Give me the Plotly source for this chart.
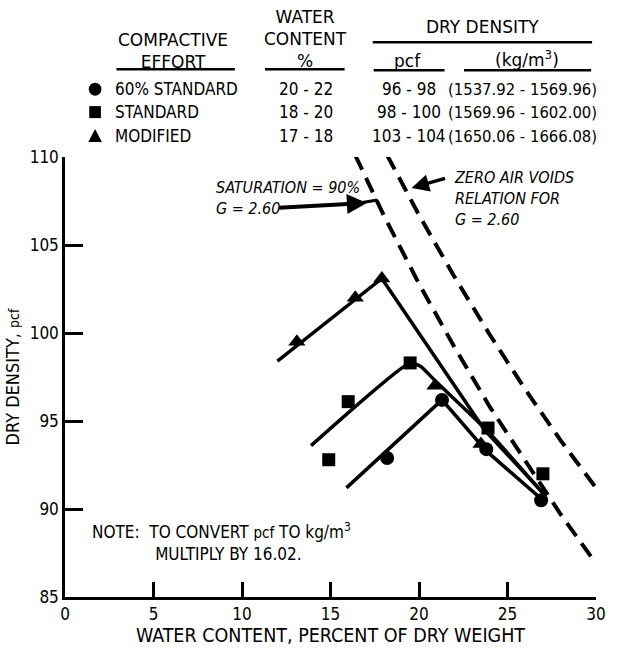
import plotly.graph_objects as go

# ---- data ----
mod_pts_x = [13.1, 16.4, 17.9, 20.9, 23.5]
mod_pts_y = [99.5, 102.0, 103.1, 97.0, 93.7]
std_pts_x = [14.9, 16.0, 19.5, 23.9, 27.0]
std_pts_y = [92.8, 96.1, 98.3, 94.6, 92.0]
s60_pts_x = [18.2, 21.3, 23.8, 26.9]
s60_pts_y = [92.9, 96.2, 93.4, 90.5]

mod_curve_x = [12.0, 17.9, 23.7, 27.1]
mod_curve_y = [98.4, 103.1, 94.5, 90.8]
std_curve_x = [13.9, 19.5, 20.1, 20.9, 23.9, 27.0]
std_curve_y = [93.6, 98.3, 98.1, 97.3, 94.4, 90.9]
s60_curve_x = [15.9, 21.3, 23.8, 27.0]
s60_curve_y = [91.2, 96.2, 93.3, 90.5]

sat_x = [16.4, 18, 20, 22, 24, 26, 28, 30]
sat_y = [110.1, 106.7, 102.8, 99.2, 95.8, 92.7, 89.7, 86.9]
zav_x = [18.2, 20, 22, 24, 26, 28, 30]
zav_y = [110.1, 106.7, 103.2, 99.9, 96.8, 93.9, 91.2]

x_ticks = [0, 5, 10, 15, 20, 25, 30]
y_ticks = [85, 90, 95, 100, 105, 110]

table_rows = ["60% STANDARD", "STANDARD", "MODIFIED"]
table_water = ["20 - 22", "18 - 20", "17 - 18"]
table_pcf = ["96 - 98", "98 - 100", "103 - 104"]
table_kg = ["(1537.92 - 1569.96)", "(1569.96 - 1602.00)", "(1650.06 - 1666.08)"]

FONT = "DejaVu Sans Condensed, DejaVu Sans, sans-serif"
FONT_W = "DejaVu Sans, sans-serif"
W, H = 617, 652
L, R, T, B = 59, 11, 157, 54
PW, PH = W - L - R, H - T - B


def px(xp):
    return (xp - L) / PW


def py(yp):
    return (H - B - yp) / PH


def dx(xp):
    return (xp - L) / PW * 30


def dy(yp):
    return 110 - (yp - T) / PH * 25


fig = go.Figure()

for cx, cy in [(mod_curve_x, mod_curve_y), (s60_curve_x, s60_curve_y)]:
    fig.add_trace(go.Scatter(x=cx, y=cy, mode="lines",
                             line=dict(color="black", width=3.5), showlegend=False))
fig.add_trace(go.Scatter(x=std_curve_x, y=std_curve_y, mode="lines",
                         line=dict(color="black", width=3.5, shape="spline", smoothing=0.5),
                         showlegend=False))
for cx, cy in [(sat_x, sat_y), (zav_x, zav_y)]:
    fig.add_trace(go.Scatter(x=cx, y=cy, mode="lines",
                             line=dict(color="black", width=4, dash="16px,9px"),
                             showlegend=False))

fig.add_trace(go.Scatter(x=mod_pts_x, y=mod_pts_y, mode="markers",
                         marker=dict(symbol="triangle-up", size=15, color="black"), showlegend=False))
fig.add_trace(go.Scatter(x=std_pts_x, y=std_pts_y, mode="markers",
                         marker=dict(symbol="square", size=13, color="black"), showlegend=False))
fig.add_trace(go.Scatter(x=s60_pts_x, y=s60_pts_y, mode="markers",
                         marker=dict(symbol="circle", size=14, color="black"), showlegend=False))

ann = []


def txt(text, xpix, ypix, size=17, xanchor="center", italic=False, family=FONT, align="center"):
    ann.append(dict(text=text, x=px(xpix), y=py(ypix), xref="paper", yref="paper",
                    xanchor=xanchor, yanchor="middle", showarrow=False, align=align,
                    font=dict(family=family, size=size, color="black",
                              style="italic" if italic else "normal")))


# header
txt("COMPACTIVE<br>EFFORT", 170, 51, family=FONT_W)
txt("WATER<br>CONTENT<br>%", 307, 39, family=FONT_W)
txt("DRY DENSITY", 489, 27, family=FONT_W)
txt("pcf", 412, 61, family=FONT_W)
txt("(kg/m<sup>3</sup>)", 535, 59, family=FONT_W)
row_y = [89, 112, 136]
for i in range(3):
    txt(table_rows[i], 108, row_y[i], xanchor="left")
    txt(table_water[i], 307, row_y[i])
    txt(table_pcf[i], 413, row_y[i])
    txt(table_kg[i], 530, row_y[i], size=16.5)

# notes
txt("SATURATION = 90%<br>G = 2.60", 212, 198, size=16, xanchor="left", italic=True, align="left")
txt("ZERO AIR VOIDS<br>RELATION FOR<br>G = 2.60", 458, 199, size=16, xanchor="left",
    italic=True, align="left")
txt("NOTE:  TO CONVERT <span style='font-size:15px'>pcf</span> TO kg/m<sup>3</sup><br>"
    + "&nbsp;" * 13 + "MULTIPLY BY 16.02.", 85, 543, size=17, xanchor="left", align="left")

# arrows
ann.append(dict(x=dx(370), y=dy(203), ax=dx(278), ay=dy(208), xref="x", yref="y",
                axref="x", ayref="y", text="", showarrow=True, arrowhead=2,
                arrowsize=1.0, arrowwidth=4, arrowcolor="black"))
ann.append(dict(x=dx(416), y=dy(188), ax=dx(452), ay=dy(178), xref="x", yref="y",
                axref="x", ayref="y", text="", showarrow=True, arrowhead=2,
                arrowsize=1.0, arrowwidth=3.5, arrowcolor="black"))

shapes = []


def hline(x0, x1, ypix, w=2.5):
    shapes.append(dict(type="line", xref="paper", yref="paper", x0=px(x0), x1=px(x1),
                       y0=py(ypix), y1=py(ypix), line=dict(color="black", width=w)))


hline(112, 234, 69)
hline(265, 347, 69)
hline(376, 602, 42)
hline(377, 450, 70)
hline(470, 601, 70)
shapes.append(dict(type="line", xref="x", yref="y", x0=dx(362), y0=dy(203), x1=dx(381), y1=dy(200),
                   line=dict(color="black", width=3)))

# header key symbols
shapes.append(dict(type="circle", xref="paper", yref="paper", x0=px(83.5), x1=px(96.5),
                   y0=py(95.5), y1=py(82.5), fillcolor="black", line=dict(width=0)))
shapes.append(dict(type="rect", xref="paper", yref="paper", x0=px(84), x1=px(96),
                   y0=py(118), y1=py(106), fillcolor="black", line=dict(width=0)))
shapes.append(dict(type="path", xref="paper", yref="paper",
                   path=f"M {px(83)} {py(142)} L {px(97)} {py(142)} L {px(90)} {py(129)} Z",
                   fillcolor="black", line=dict(width=0)))

fig.update_layout(
    width=W, height=H, margin=dict(l=L, r=R, t=T, b=B),
    paper_bgcolor="white", plot_bgcolor="white",
    annotations=ann, shapes=shapes,
    xaxis=dict(range=[0, 30], tickvals=x_ticks, ticks="inside", ticklen=15, tickwidth=2.5,
               tickcolor="black", showline=True, linecolor="black", linewidth=2.5,
               showgrid=False, zeroline=False,
               tickfont=dict(family=FONT, size=17, color="black"),
               title=dict(text="WATER CONTENT, PERCENT OF DRY WEIGHT", standoff=3,
                          font=dict(family=FONT, size=19.5, color="black"))),
    yaxis=dict(range=[85, 110], tickvals=y_ticks, ticks="inside", ticklen=18, tickwidth=2.5,
               tickcolor="black", showline=True, linecolor="black", linewidth=2.5,
               showgrid=False, zeroline=False,
               tickfont=dict(family=FONT, size=17, color="black"),
               title=dict(text="DRY DENSITY, <span style='font-size:14px'>pcf</span>", standoff=6,
                          font=dict(family=FONT, size=18, color="black"))),
)

fig.write_html("out.html")
